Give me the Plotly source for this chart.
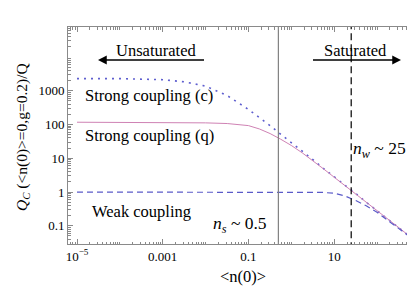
import plotly.graph_objects as go

# ---- data ----
n0 = [1e-5, 1e-4, 1e-3, 3.2e-3, 0.01, 0.032, 0.1, 0.18, 0.32, 0.56, 1.0,
      1.8, 3.2, 5.6, 10, 18, 32, 56, 100, 180, 320, 575]
strong_c = [2300, 2290, 2130, 1840, 1380, 720, 280, 165, 93, 52, 29.5,
            16.5, 9.1, 5.0, 2.85, 1.6, 0.9, 0.5, 0.283, 0.158, 0.089, 0.049]
strong_q = [117, 117, 116, 115, 112, 107, 93, 74, 54, 37, 24,
            14.5, 8.5, 4.9, 2.75, 1.55, 0.87, 0.49, 0.28, 0.157, 0.089, 0.049]
weak = [1.0, 1.0, 1.0, 1.0, 1.0, 1.0, 1.0, 1.0, 1.0, 1.0, 1.0,
        1.0, 0.99, 0.97, 0.92, 0.76, 0.56, 0.39, 0.25, 0.145, 0.085, 0.048]
n_s = 0.5
n_w = 25

x_tickvals = [1e-5, 1e-3, 1e-1, 10]
x_ticktext = ["10<sup>\u22125</sup>", "0.001", "0.1", "10"]
y_tickvals = [0.1, 1, 10, 100, 1000]
y_ticktext = ["0.1", "1", "10", "100", "1000"]

FONT = "Liberation Serif"

x_minor = [m * 10.0 ** e for e in range(-6, 3) for m in range(1, 10)
           if not (m == 1 and 10.0 ** e in x_tickvals)]
y_minor = [m * 10.0 ** e for e in range(-2, 5) for m in range(2, 10)]

fig = go.Figure()
fig.add_trace(go.Scatter(x=n0, y=strong_c, mode="lines",
                         line=dict(color="#5f5fcf", width=1.6, dash="2px,5px")))
fig.add_trace(go.Scatter(x=n0, y=strong_q, mode="lines",
                         line=dict(color="#cf82b4", width=1.0)))
fig.add_trace(go.Scatter(x=n0, y=weak, mode="lines",
                         line=dict(color="#5a5ac8", width=1.2, dash="6px,4px")))
fig.add_trace(go.Scatter(x=[n_s, n_s], y=[1e-3, 1e6], mode="lines",
                         line=dict(color="#808080", width=1.2)))
fig.add_trace(go.Scatter(x=[n_w, n_w], y=[1e-3, 1e6], mode="lines",
                         line=dict(color="black", width=1.2, dash="7px,4px")))

L, R, T, B = 60, 4, 19, 51
W, H = 415, 287
pw, ph = W - L - R, H - T - B


def px(x):
    return (x - L) / pw


def py(y):
    return (H - B - y) / ph


ann = []


def text(x, y, s, size=16.5, angle=0):
    ann.append(dict(x=px(x), y=py(y), xref="paper", yref="paper", text=s,
                    showarrow=False, textangle=angle,
                    font=dict(family=FONT, size=size, color="black"),
                    xanchor="center", yanchor="middle"))


def arrow(tipx, tipy, tailx, taily):
    ann.append(dict(x=px(tipx), y=py(tipy), xref="paper", yref="paper",
                    ax=tailx - tipx, ay=taily - tipy, text=" ",
                    showarrow=True, arrowhead=2, arrowsize=1.35,
                    arrowwidth=1.3, arrowcolor="black",
                    font=dict(family=FONT, size=2)))


text(148, 43, "Unsaturated")
text(347, 43, "Saturated")
arrow(90, 52, 198, 52)
arrow(393, 52, 303, 52)
text(141, 88, "Strong coupling (c)")
text(141, 128, "Strong coupling (q)")
text(133, 203, "Weak coupling")
text(232, 216, "<i>n</i><sub><i>s</i></sub> ~ 0.5", size=17.5)
text(371, 141, "<i>n</i><sub><i>w</i></sub> ~ 25", size=17.5)
text(235, 268, "&lt;n(0)&gt;", size=16.5)
text(14, 129, "<i>Q</i><sub><i>C</i></sub> (&lt;n(0)&gt;=0,g=0.2)/Q", size=15.5, angle=-90)

axis_common = dict(showgrid=False, zeroline=False, showline=True,
                   linecolor="#8a8a8a", linewidth=1, mirror="allticks",
                   ticks="inside", ticklen=5, tickcolor="#8a8a8a", tickwidth=1,
                   tickfont=dict(family=FONT, size=13, color="black"))

fig.update_layout(
    width=W, height=H, margin=dict(l=L, r=R, t=T, b=B),
    paper_bgcolor="white", plot_bgcolor="white", showlegend=False,
    font=dict(family=FONT),
    annotations=ann,
    xaxis=dict(type="log", range=[-5.21, 2.98], tickmode="array",
               tickvals=x_tickvals, ticktext=x_ticktext,
               minor=dict(tickmode="array", tickvals=x_minor, ticks="inside",
                          ticklen=2.5, tickcolor="#8a8a8a", showgrid=False),
               **axis_common),
    yaxis=dict(type="log", range=[-1.54, 4.89], tickmode="array",
               tickvals=y_tickvals, ticktext=y_ticktext,
               minor=dict(tickmode="array", tickvals=y_minor, ticks="inside",
                          ticklen=2.5, tickcolor="#8a8a8a", showgrid=False),
               **axis_common),
)

fig.write_html("out.html")
